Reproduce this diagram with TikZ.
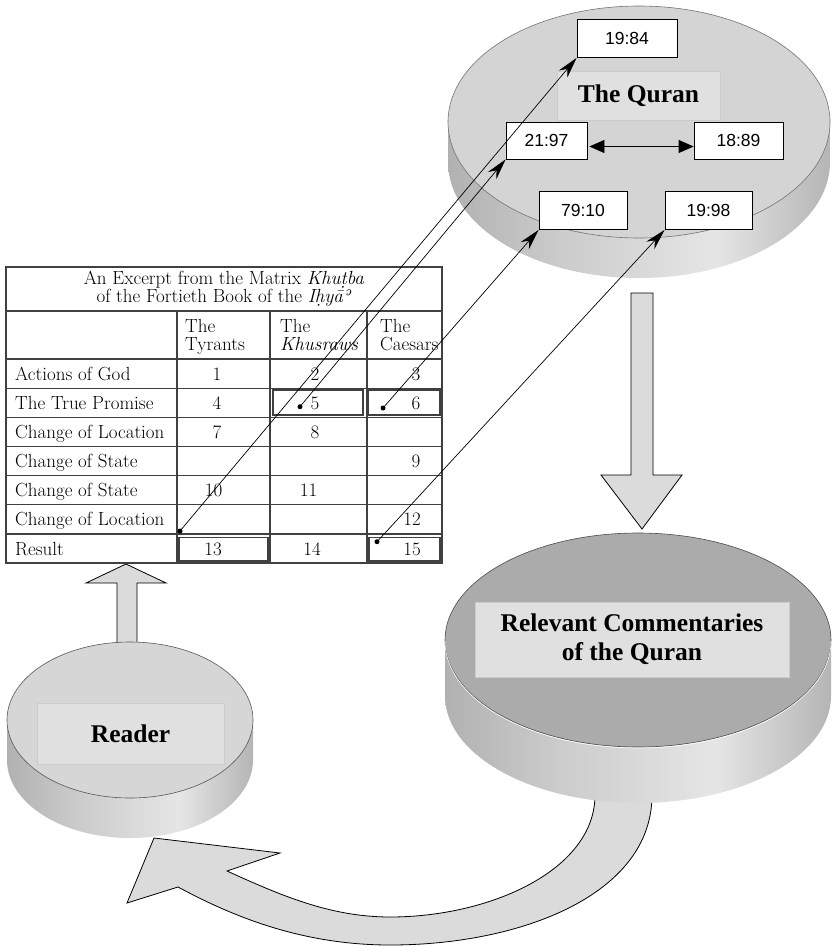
\documentclass[tikz,border=0pt]{standalone}
\usepackage{fontspec}
\newfontfamily\versefont{Liberation Sans}
\newfontfamily\platefont{Liberation Serif}
\usetikzlibrary{arrows.meta}

\pgfdeclarehorizontalshading{cylshade}{100bp}{color(0bp)=(black!48); color(40bp)=(black!20);
  color(60bp)=(black!10); color(82bp)=(black!38); color(100bp)=(black!88)}

\tikzset{
  verse/.style={draw, fill=white, line width=0.8pt, minimum height=38pt, inner sep=0pt,
    font=\versefont\fontsize{17.5}{18}\selectfont},
  plate/.style={fill=black!12, draw=black!20, inner sep=0pt, align=center,
    font=\platefont\bfseries\fontsize{25.5}{29}\selectfont},
  cell/.style={inner sep=0pt, anchor=base, font=\fontsize{19}{18}\selectfont},
  rowlabel/.style={inner sep=0pt, anchor=base west, font=\fontsize{19}{18}\selectfont},
  grid/.style={line width=1.2pt, black!75},
  conn/.style={line width=0.7pt, -{Stealth[length=21pt, width=11pt]}},
  blockarrow/.style={fill=black!14, draw=black, line width=0.8pt, line join=miter},
  cylside/.style={shading=cylshade},
}

\begin{document}
\begin{tikzpicture}[x=1pt, y=-1pt]
      \useasboundingbox (0,0) rectangle (831,947);

      \filldraw[blockarrow] (595,795) -- (652,795)
        .. controls (652,895) and (520,945) .. (390,945)
        .. controls (300,945) and (230,915) .. (178,887)
        -- (127,903) -- (154,838) -- (280,853) -- (227,871)
        .. controls (280,895) and (330,917) .. (390,917)
        .. controls (490,917) and (595,870) .. (595,795) -- cycle;
      \filldraw[blockarrow] (117,650) -- (117,583) -- (86,583) -- (126,564)
        -- (166,583) -- (137,583) -- (137,650) -- cycle;
      \filldraw[blockarrow] (631,293) -- (631,475) -- (601,475) -- (642,529)
        -- (682,475) -- (653,475) -- (653,293) -- cycle;

      \shade[cylside] (448,122) -- (448,162) arc [start angle=180, end angle=360, x radius=191pt, y radius=116pt] -- (830,122) -- cycle;
      \filldraw[fill=black!17, draw=black!55, line width=0.6pt] (639,122) ellipse [x radius=191pt, y radius=116pt];
      \node[plate, minimum width=163pt, minimum height=49pt] (quran) at (638.5,95.5) {The Quran};

      \shade[cylside] (445,640) -- (445,696) arc [start angle=180, end angle=360, x radius=193pt, y radius=107pt] -- (831,640) -- cycle;
      \filldraw[fill=black!33, draw=black!70, line width=0.6pt] (638,640) ellipse [x radius=193pt, y radius=107pt];
      \draw[white, line width=0.6pt] (445,641) arc [start angle=180, end angle=360, x radius=193pt, y radius=107pt];
      \node[plate, minimum width=314pt, minimum height=75pt] (comm) at (632,639.5) {Relevant Commentaries\\of the Quran};

      \shade[cylside] (7,720) -- (7,760) arc [start angle=180, end angle=360, x radius=123pt, y radius=78pt] -- (253,720) -- cycle;
      \filldraw[fill=black!16, draw=black!65, line width=0.6pt] (130,720) ellipse [x radius=123pt, y radius=78pt];
      \node[plate, minimum width=187pt, minimum height=61pt] (reader) at (130.5,733.5) {Reader};

      \node[verse, minimum width=100pt] (v1984) at (627,38.5) {19:84};
      \node[verse, minimum width=81pt, minimum height=37pt] (v2197) at (546.5,140.5) {21:97};
      \node[verse, minimum width=89pt, minimum height=37pt] (v1889) at (738.5,140.5) {18:89};
      \node[verse, minimum width=88pt] (v7910) at (583,210.5) {79:10};
      \node[verse, minimum width=87pt] (v1998) at (708.5,210.5) {19:98};
      \draw[line width=0.8pt, {Triangle[length=15pt, width=13pt]}-{Triangle[length=15pt, width=13pt]}]
        ([xshift=2pt, yshift=-6pt]v2197.east) -- ([yshift=-6pt]v1889.west);

      \fill[white] (6,267) rectangle (442,563);
      \draw[grid] (6,267) rectangle (442,563);
      \draw[grid] (6,311) -- (442,311);
      \draw[grid] (6,359) -- (442,359);
      \draw[grid] (6,388.1) -- (442,388.1);
      \draw[grid] (6,417.3) -- (442,417.3);
      \draw[grid] (6,446.4) -- (442,446.4);
      \draw[grid] (6,475.6) -- (442,475.6);
      \draw[grid] (6,504.7) -- (442,504.7);
      \draw[grid] (6,533.9) -- (442,533.9);
      \draw[grid] (177,311) -- (177,563);
      \draw[grid] (270,311) -- (270,563);
      \draw[grid] (367,311) -- (367,563);
      \draw[grid] (273,390) rectangle (363,415);
      \draw[grid] (368,390) rectangle (440,415);
      \draw[grid] (179,537.5) rectangle (268,561);
      \draw[grid] (369,537.5) rectangle (440,561);

      \node[align=center, inner sep=0pt, font=\fontsize{19}{18}\selectfont] (title) at (224,289)
        {An Excerpt from the Matrix \textit{Khuṭba}\\of the Fortieth Book of the \textit{Iḥyāʾ}};
      \node[rowlabel, anchor=north west, align=left] (hty) at (185,319) {The\\Tyrants};
      \node[rowlabel, anchor=north west, align=left] (hkh) at (280,319) {The\\\textit{Khusraws}};
      \node[rowlabel, anchor=north west, align=left] (hca) at (380,319) {The\\Caesars};

      \node[rowlabel] (r1) at (15,380) {Actions of God};
      \node[rowlabel] (r2) at (15,409.3) {The True Promise};
      \node[rowlabel] (r3) at (15,438.4) {Change of Location};
      \node[rowlabel] (r4) at (15,467.6) {Change of State};
      \node[rowlabel] (r5) at (15,496.7) {Change of State};
      \node[rowlabel] (r6) at (15,525.9) {Change of Location};
      \node[rowlabel] (r7) at (15,555) {Result};

      \node[cell] (n1) at (217,380) {1};
      \node[cell] (n2) at (315,380) {2};
      \node[cell] (n3) at (416,380) {3};
      \node[cell] (n4) at (217,409.3) {4};
      \node[cell] (n5) at (315,409.3) {5};
      \node[cell] (n6) at (416,409.3) {6};
      \node[cell] (n7) at (217,438.4) {7};
      \node[cell] (n8) at (315,438.4) {8};
      \node[cell] (n9) at (416,467.6) {9};
      \node[cell] (n10) at (213.5,496.7) {10};
      \node[cell] (n11) at (308.5,496.7) {11};
      \node[cell] (n12) at (412,525.9) {12};
      \node[cell] (n13) at (213,555) {13};
      \node[cell] (n14) at (312,555) {14};
      \node[cell] (n15) at (412,555) {15};

      \coordinate (d13) at (180,531);
      \coordinate (d5) at (300,406.7);
      \coordinate (d6) at (383,408);
      \coordinate (d15) at (377,541.7);
      \fill (d13) circle [radius=2.5pt];
      \fill (d5) circle [radius=2.5pt];
      \fill (d6) circle [radius=2.5pt];
      \fill (d15) circle [radius=2.5pt];
      \draw[conn] (d13) -- (v1984.south west);
      \draw[conn] (d5) -- (v2197.south west);
      \draw[conn] (d6) -- (v7910.south west);
      \draw[conn] (d15) -- (v1998.south west);
    \end{tikzpicture}
\end{document}
